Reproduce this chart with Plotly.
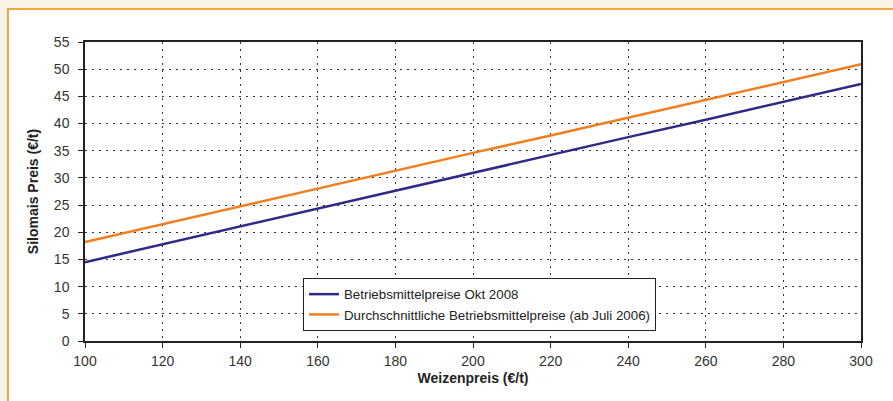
import plotly.graph_objects as go

# Wheat price (€/t) on the x axis
weizenpreis = [100, 120, 140, 160, 180, 200, 220, 240, 260, 280, 300]
# Silage maize price (€/t) for the two input-cost scenarios
okt_2008 = [14.5, 17.8, 21.0, 24.3, 27.6, 30.9, 34.2, 37.5, 40.7, 44.0, 47.3]
durchschnitt = [18.2, 21.5, 24.7, 28.0, 31.3, 34.6, 37.8, 41.1, 44.4, 47.6, 50.9]

y_ticks = list(range(0, 56, 5))
x_ticks = list(range(100, 301, 20))

W, H = 893, 401
ML, MR, MT, MB = 85, 32, 42, 60
pw, ph = W - ML - MR, H - MT - MB

FONT = "Liberation Sans, Arial, sans-serif"

def px_x(p):
    return (p - ML) / pw

def px_y(p):
    return (H - MB - p) / ph

fig = go.Figure()
fig.add_trace(go.Scatter(
    x=weizenpreis, y=okt_2008, mode="lines",
    name="Betriebsmittelpreise Okt 2008",
    line=dict(color="#2E2A85", width=2.5),
))
fig.add_trace(go.Scatter(
    x=weizenpreis, y=durchschnitt, mode="lines",
    name="Durchschnittliche Betriebsmittelpreise (ab Juli 2006)",
    line=dict(color="#F07E1E", width=2.5),
))

# white panel with orange frame on the cream page
fig.add_shape(
    type="rect", xref="paper", yref="paper", layer="below",
    x0=px_x(8), x1=px_x(W + 10), y0=px_y(H + 10), y1=px_y(9),
    fillcolor="white", line=dict(color="#F5A443", width=2),
)

axis_common = dict(
    showline=True, mirror=True, linecolor="#222", linewidth=1.5,
    ticks="outside", ticklen=5, tickcolor="#222", tickwidth=1,
    showgrid=True, gridcolor="#333", griddash="2px,5px", gridwidth=1,
    zeroline=False,
    tickfont=dict(family=FONT, size=14, color="#333"),
)

fig.update_xaxes(
    range=[100, 300], tickvals=x_ticks, ticklabelstandoff=1,
    title=dict(text="<b>Weizenpreis (€/t)</b>", standoff=6,
               font=dict(family=FONT, size=14, color="#222")),
    **axis_common,
)
fig.update_yaxes(
    range=[0, 55], tickvals=y_ticks, ticklabelstandoff=6,
    title=dict(text="<b>Silomais Preis (€/t)</b>", standoff=12,
               font=dict(family=FONT, size=14, color="#222")),
    **axis_common,
)

fig.update_layout(
    width=W, height=H,
    margin=dict(l=ML, r=MR, t=MT, b=MB),
    paper_bgcolor="#FBF2E6",
    plot_bgcolor="white",
    showlegend=True,
    legend=dict(
        x=px_x(303), y=px_y(278), xanchor="left", yanchor="top",
        bgcolor="white", bordercolor="#222", borderwidth=1,
        font=dict(family=FONT, size=13.3, color="#222"),
        itemwidth=30, tracegroupgap=0,
    ),
)

fig.write_html("out.html")
